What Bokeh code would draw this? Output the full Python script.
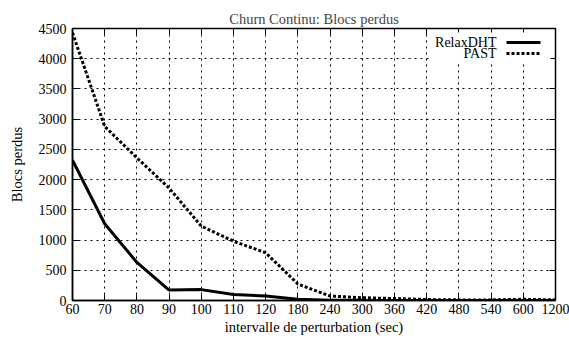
from bokeh.plotting import figure
from bokeh.models import (Range1d, FixedTicker, LinearAxis, Label, Arrow, BoxAnnotation, Title)
from bokeh.embed import file_html
from bokeh.resources import INLINE

categories = ["60", "70", "80", "90", "100", "110", "120", "180", "240",
              "300", "360", "420", "480", "540", "600", "1200"]
relaxdht = [2320, 1270, 630, 173, 180, 100, 76, 20, 6, 3, 2, 2, 2, 2, 2, 2]
past = [4430, 2880, 2360, 1860, 1230, 980, 790, 273, 74, 46, 32, 16, 10, 10, 20, 10]
y_ticks = [0, 500, 1000, 1500, 2000, 2500, 3000, 3500, 4000, 4500]

FONT = "Liberation Serif"
xs = list(range(len(categories)))

p = figure(width=569, height=344, output_backend="svg", toolbar_location=None,
           x_range=Range1d(0, len(categories) - 1), y_range=Range1d(0, 4500),
           min_border_left=72, min_border_right=14, min_border_top=28, min_border_bottom=44)
p.background_fill_color = "white"
p.border_fill_color = "white"
p.outline_line_color = "black"
p.outline_line_width = 1.5

xticker = FixedTicker(ticks=xs)
yticker = FixedTicker(ticks=y_ticks)

bottom_axis = p.below[0]
left_axis = p.left[0]
bottom_axis.ticker = xticker
left_axis.ticker = yticker
bottom_axis.major_label_overrides = {i: c for i, c in enumerate(categories)}

for ax in [bottom_axis, left_axis]:
    ax.major_tick_in = 6
    ax.major_tick_out = 0
    ax.minor_tick_in = 0
    ax.minor_tick_out = 0
    ax.axis_line_color = "black"
    ax.axis_line_width = 1.5
    ax.major_tick_line_color = "black"
    ax.major_label_text_font = FONT
    ax.major_label_text_font_size = "14px"
    ax.major_label_text_color = "black"
    ax.axis_label_text_font = FONT
    ax.axis_label_text_font_size = "14.5px"
    ax.axis_label_text_font_style = "normal"
    ax.axis_label_text_color = "black"
bottom_axis.axis_label = "intervalle de perturbation (sec)"
left_axis.axis_label = "Blocs perdus"
bottom_axis.major_label_standoff = 3
bottom_axis.axis_label_standoff = 2
left_axis.major_label_standoff = 6
left_axis.axis_label_standoff = 11

for g in p.grid:
    g.grid_line_color = "black"
    g.grid_line_dash = "2 4"
    g.grid_line_width = 1
p.grid[0].ticker = xticker
p.grid[1].ticker = yticker

# mirrored ticks (added before the title so they sit next to the frame)
top = LinearAxis(ticker=xticker, major_tick_in=6, major_tick_out=0, minor_tick_in=0, minor_tick_out=0,
                 major_label_overrides={i: "" for i in xs}, major_label_standoff=0, axis_line_color=None)
right = LinearAxis(ticker=yticker, major_tick_in=6, major_tick_out=0, minor_tick_in=0, minor_tick_out=0,
                   major_label_overrides={t: "" for t in y_ticks}, major_label_standoff=0, axis_line_color=None)
p.add_layout(top, "above")
p.add_layout(right, "right")

title = Title(text="Churn Continu: Blocs perdus", align="center", text_font=FONT,
              text_font_size="14.5px", text_font_style="normal", standoff=3, offset=0)
p.add_layout(title, "above")

p.line(xs, relaxdht, line_color="black", line_width=3)
p.line(xs, past, line_color="black", line_width=3, line_dash="3 2")

# gnuplot-style key (text, then sample)
p.add_layout(BoxAnnotation(left=358, right=478, bottom=238, top=268,
                           left_units="screen", right_units="screen",
                           bottom_units="screen", top_units="screen",
                           fill_color="white", fill_alpha=1, line_color=None, level="overlay"))
for name, yk, dash in [("RelaxDHT", 258, "solid"), ("PAST", 247, "3 2")]:
    p.add_layout(Label(x=424, y=yk, x_units="screen", y_units="screen", text=name,
                       text_font=FONT, text_font_size="14px", text_align="right",
                       text_baseline="middle", text_color="black", level="overlay"))
    p.add_layout(Arrow(x_start=434, x_end=468, y_start=yk, y_end=yk,
                       start_units="screen", end_units="screen", start=None, end=None,
                       line_color="black", line_width=3, line_dash=dash, level="overlay"))

open("out.html", "w").write(file_html(p, INLINE))
